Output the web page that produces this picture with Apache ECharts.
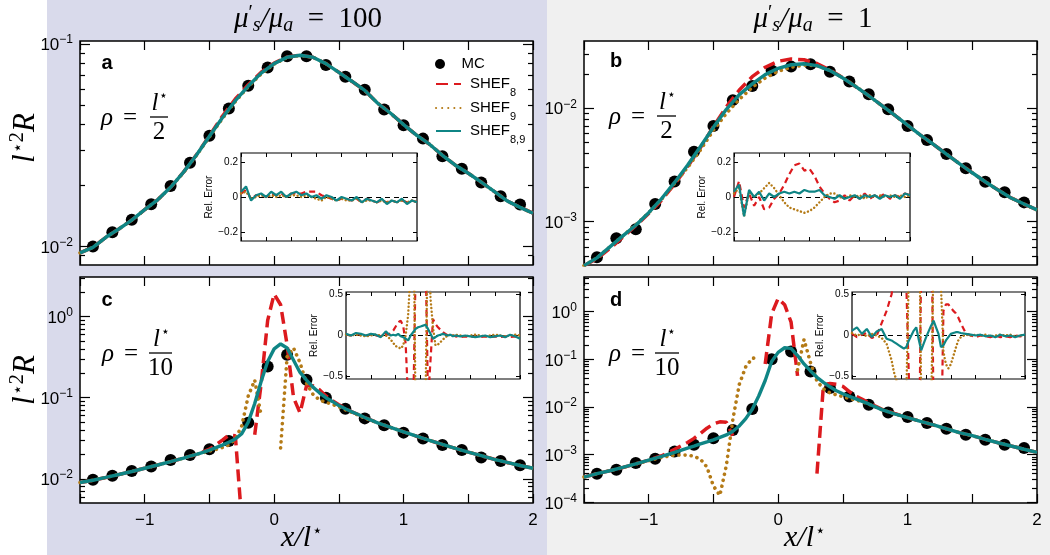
<!DOCTYPE html>
<html><head><meta charset="utf-8">
<script src="https://cdn.jsdelivr.net/npm/echarts@6/dist/echarts.min.js"></script>
<style>html,body{margin:0;padding:0;background:#fff}#c{width:1050px;height:555px}</style>
</head><body><div id="c"></div>
<script>
// ---------------- DATA ----------------
const xCoarse = [-1.5,-1.4,-1.3,-1.2,-1.1,-1.0,-0.9,-0.8,-0.7,-0.6,-0.5,-0.4,-0.3,-0.2,-0.1,0,0.1,0.2,0.3,0.4,0.5,0.6,0.7,0.8,0.9,1.0,1.1,1.2,1.3,1.4,1.5,1.6,1.7,1.8,1.9,2.0];
const xFine = [-1.5,-1.4,-1.3,-1.2,-1.1,-1.0,-0.9,-0.8,-0.7,-0.65,-0.6,-0.55,-0.5,-0.45,-0.4,-0.35,-0.3,-0.25,-0.2,-0.15,-0.1,-0.05,0,0.05,0.1,0.15,0.2,0.25,0.3,0.35,0.4,0.45,0.5,0.55,0.6,0.65,0.7,0.8,0.9,1.0,1.1,1.2,1.3,1.4,1.5,1.6,1.7,1.8,1.9,2.0];
const mcX = [-1.4,-1.25,-1.1,-0.95,-0.8,-0.65,-0.5,-0.35,-0.2,-0.05,0.1,0.25,0.4,0.55,0.7,0.85,1.0,1.15,1.3,1.45,1.6,1.75,1.9];

// panel a  (mu's/mua = 100, rho = l*/2)
const mcA = [0.0100,0.01175,0.01355,0.01615,0.0199,0.0259,0.0352,0.0480,0.0622,0.0766,0.0871,0.0871,0.0787,0.0690,0.0594,0.0475,0.0397,0.0341,0.0279,0.0242,0.0207,0.0177,0.0161];
const aTeal = [0.0093,0.0099,0.0111,0.0122,0.0135,0.0152,0.0170,0.0196,0.0233,0.0283,0.0350,0.0432,0.0525,0.0620,0.0718,0.0800,0.0860,0.0880,0.0860,0.0800,0.0725,0.0655,0.0590,0.0510,0.0455,0.0400,0.0355,0.0320,0.0282,0.0252,0.0230,0.0208,0.0187,0.0168,0.0156,0.0146];
const aRed = [0.0093,0.0099,0.0111,0.0122,0.0135,0.0152,0.0170,0.0196,0.0233,0.0284,0.0352,0.0440,0.0535,0.0630,0.0725,0.0805,0.0862,0.0880,0.0860,0.0800,0.0725,0.0655,0.0590,0.0510,0.0455,0.0400,0.0355,0.0320,0.0282,0.0252,0.0230,0.0208,0.0187,0.0168,0.0156,0.0146];
const aBrown = [0.0093,0.0099,0.0111,0.0122,0.0135,0.0152,0.0170,0.0196,0.0232,0.0282,0.0348,0.0428,0.0520,0.0615,0.0712,0.0796,0.0858,0.0879,0.0860,0.0800,0.0725,0.0655,0.0590,0.0510,0.0455,0.0400,0.0355,0.0320,0.0282,0.0252,0.0230,0.0208,0.0187,0.0168,0.0156,0.0146];

// panel b  (mu's/mua = 1, rho = l*/2)
const mcB = [0.000485,0.000715,0.000857,0.00143,0.00226,0.00414,0.00698,0.0118,0.0157,0.0215,0.0233,0.0244,0.0210,0.0172,0.0133,0.0098,0.00698,0.00525,0.00395,0.00296,0.00225,0.00182,0.00148];
const bTeal = [0.00041,0.00048,0.00060,0.00075,0.00093,0.00120,0.00160,0.00222,0.00315,0.00460,0.00680,0.00980,0.01320,0.01640,0.01980,0.02250,0.02420,0.02470,0.02380,0.02150,0.01850,0.01550,0.01290,0.01060,0.00870,0.00710,0.00580,0.00480,0.00395,0.00325,0.00270,0.00225,0.00190,0.00162,0.00143,0.00127];
const bRed = [0.00041,0.00047,0.00058,0.00073,0.00092,0.00118,0.00155,0.00215,0.00305,0.00450,0.00690,0.01030,0.01450,0.01900,0.02300,0.02600,0.02720,0.02680,0.02480,0.02180,0.01860,0.01550,0.01290,0.01060,0.00870,0.00710,0.00580,0.00480,0.00395,0.00325,0.00270,0.00225,0.00190,0.00162,0.00143,0.00127];
const bBrown = [0.00041,0.00048,0.00060,0.00075,0.00094,0.00120,0.00158,0.00218,0.00300,0.00430,0.00640,0.00900,0.01200,0.01530,0.01850,0.02120,0.02300,0.02400,0.02370,0.02160,0.01860,0.01560,0.01290,0.01060,0.00870,0.00710,0.00580,0.00480,0.00395,0.00325,0.00270,0.00225,0.00190,0.00162,0.00143,0.00127];

// panel c  (mu's/mua = 100, rho = l*/10)
const mcC = [0.00972,0.0109,0.0125,0.0142,0.0171,0.0197,0.0231,0.0292,0.0492,0.243,0.339,0.167,0.0997,0.0731,0.0556,0.0456,0.0371,0.0313,0.0261,0.0227,0.0183,0.0166,0.0147];
const cTeal = [0.0090,0.0096,0.0104,0.0113,0.0123,0.0135,0.0148,0.0163,0.0180,0.0190,0.0200,0.0212,0.0226,0.0242,0.0260,0.0282,0.0310,0.0360,0.0500,0.085,0.160,0.280,0.400,0.460,0.410,0.290,0.205,0.165,0.135,0.115,0.100,0.090,0.080,0.073,0.067,0.062,0.057,0.049,0.043,0.038,0.0335,0.0298,0.0265,0.0237,0.0213,0.0193,0.0174,0.0159,0.0146,0.0135];
const cRed = [0.0090,0.0096,0.0104,0.0113,0.0123,0.0135,0.0148,0.0163,0.0180,0.0190,0.0200,0.0215,0.0232,0.0262,0.0300,0.0345,0.0340,0.0030,null,0.035,0.150,0.900,1.900,1.400,0.450,0.100,0.065,0.140,0.140,0.125,0.105,0.092,0.082,0.074,0.067,0.062,0.057,0.049,0.043,0.038,0.0335,0.0298,0.0265,0.0237,0.0213,0.0193,0.0174,0.0159,0.0146,0.0135];
const cBrown = [0.0090,0.0096,0.0104,0.0113,0.0123,0.0135,0.0148,0.0163,0.0180,0.0190,0.0200,0.0210,0.0220,0.0230,0.0243,0.0262,0.0310,0.0450,0.105,0.165,0.060,null,null,0.024,0.320,0.410,0.270,0.150,0.110,0.094,0.088,0.083,0.077,0.071,0.066,0.061,0.056,0.049,0.043,0.038,0.0335,0.0298,0.0265,0.0237,0.0213,0.0193,0.0174,0.0159,0.0146,0.0135];

// panel d  (mu's/mua = 1, rho = l*/10)
const mcD = [0.0004,0.000485,0.00067,0.00082,0.00117,0.00162,0.0022,0.0033,0.0091,0.1008,0.146,0.0558,0.0249,0.0167,0.0112,0.0077,0.0062,0.00463,0.0035,0.00262,0.00206,0.00162,0.00138];
const dTeal = [0.00034,0.00040,0.00046,0.00054,0.00064,0.00077,0.00092,0.00112,0.00138,0.00152,0.00168,0.00185,0.00205,0.0023,0.0026,0.0031,0.0040,0.0057,0.0090,0.017,0.036,0.090,0.140,0.175,0.170,0.120,0.080,0.057,0.042,0.033,0.0265,0.022,0.019,0.0167,0.0148,0.0131,0.0116,0.0088,0.0072,0.0060,0.0050,0.0042,0.0035,0.0029,0.0025,0.0021,0.00178,0.00152,0.0013,0.00112];
const dRed = [0.00034,0.00040,0.00046,0.00054,0.00064,0.00077,0.00095,0.0013,0.0018,0.0022,0.0028,0.0036,0.0044,0.0049,0.0048,0.0025,null,null,null,null,0.080,0.900,1.900,1.400,0.600,0.045,null,null,0.0004,0.029,0.031,0.030,0.027,0.021,0.017,0.0145,0.0122,0.0090,0.0073,0.0060,0.0050,0.0042,0.0035,0.0029,0.0025,0.0021,0.00178,0.00152,0.0013,0.00112];
const dBrown = [0.00034,0.00040,0.00046,0.00054,0.00064,0.00075,0.00088,0.00098,0.00098,0.00093,0.0008,0.00055,0.00022,0.00014,0.0006,0.0055,0.030,0.070,0.105,0.110,null,null,null,null,null,0.060,0.260,0.085,0.035,0.024,0.0198,0.018,0.0165,0.015,0.014,0.0128,0.0115,0.0088,0.0072,0.0060,0.0050,0.0042,0.0035,0.0029,0.0025,0.0021,0.00178,0.00152,0.0013,0.00112];

// insets: relative error
const iaTeal = [0.03,0.06,-0.02,0.01,0.02,0.0,0.03,0.01,0.03,0.0,0.02,0.03,0.01,0.02,0.0,0.01,-0.01,0.01,0.0,-0.02,0.0,-0.01,-0.02,0.0,-0.03,-0.01,-0.02,-0.03,-0.01,-0.04,-0.02,-0.03,-0.01,-0.04,-0.02,-0.03];
const iaRed = [0.02,0.04,-0.01,0.01,0.01,0.0,0.02,0.01,0.02,0.0,0.02,0.02,0.02,0.03,0.03,0.03,0.01,0.0,-0.01,-0.02,-0.01,-0.01,-0.02,-0.01,-0.03,-0.01,-0.02,-0.03,-0.02,-0.03,-0.02,-0.03,-0.02,-0.03,-0.02,-0.03];
const iaBrown = [0.02,0.03,-0.01,0.0,0.01,0.0,0.01,0.0,0.01,0.0,0.01,0.01,0.0,0.01,0.0,-0.01,-0.02,0.0,-0.01,-0.02,-0.01,-0.02,-0.02,-0.01,-0.03,-0.02,-0.02,-0.03,-0.02,-0.03,-0.02,-0.03,-0.02,-0.03,-0.02,-0.03];
const ibTeal = [0.03,0.07,-0.11,0.04,0.0,0.03,-0.02,0.02,0.0,0.02,0.03,0.02,0.03,0.02,0.04,0.03,0.03,0.04,0.01,0.0,-0.01,0.01,-0.01,0.0,0.01,-0.01,0.01,0.0,0.01,-0.01,0.01,0.0,0.01,-0.01,0.02,0.01];
const ibRed = [0.0,0.09,-0.06,0.02,-0.05,0.0,-0.07,-0.06,-0.01,0.02,0.07,0.13,0.18,0.19,0.15,0.16,0.12,0.06,0.02,-0.01,-0.03,-0.02,0.01,-0.02,0.01,-0.01,0.02,-0.01,0.01,0.0,0.02,-0.01,0.01,0.0,0.02,0.01];
const ibBrown = [0.02,0.05,-0.11,0.03,0.0,0.02,0.05,0.08,0.05,0.01,-0.03,-0.06,-0.07,-0.08,-0.09,-0.08,-0.06,-0.03,0.0,0.02,0.02,0.0,-0.01,0.01,0.0,0.01,-0.01,0.01,0.0,0.01,0.0,0.01,0.0,0.01,0.0,0.01];
const icTeal = [0.02,0.0,0.03,0.02,0.0,0.02,0.01,-0.02,0.05,0.02,0.0,0.01,0.0,0.02,-0.01,-0.02,-0.04,-0.06,0.0,0.04,0.08,0.10,0.11,0.12,0.13,0.08,0.02,-0.04,-0.02,0.0,0.01,0.02,0.01,0.0,0.01,-0.01,0.0,-0.01,0.0,-0.01,-0.02,-0.01,0.0,-0.02,-0.01,0.0,-0.02,0.01,-0.01,-0.04];
const icRed = [0.01,0.0,0.02,0.01,0.0,0.01,0.0,-0.01,0.02,0.01,0.03,0.06,0.11,0.16,0.18,0.12,-0.1,-0.8,-1.5,-1.0,0.8,3,5,4,1,-0.8,-0.3,0.2,0.14,0.1,0.07,0.04,0.02,0.0,-0.01,0.0,-0.01,-0.02,-0.01,-0.02,-0.01,-0.02,-0.01,-0.02,-0.01,-0.02,-0.01,-0.02,-0.01,-0.02];
const icBrown = [0.01,0.0,0.01,0.0,-0.01,0.0,0.01,0.0,0.0,-0.02,-0.05,-0.09,-0.13,-0.14,-0.16,-0.12,0.0,0.25,0.8,2,-1,-1.8,-2,-1.5,-0.8,1.5,0.45,0.1,-0.12,-0.11,-0.08,-0.05,-0.02,0.0,0.01,0.0,0.01,0.0,-0.01,0.0,0.01,0.0,-0.01,0.0,0.01,0.0,-0.01,0.0,0.01,0.0];
const idTeal = [0.06,0.1,0.02,0.08,-0.02,0.05,0.08,-0.04,-0.06,-0.08,-0.1,-0.12,-0.14,-0.16,-0.14,-0.06,0.0,0.06,0.1,-0.05,-0.18,-0.1,-0.02,0.05,0.12,0.18,0.1,0.02,-0.14,-0.12,-0.06,-0.02,0.02,0.03,0.04,0.04,0.03,0.02,0.01,0.0,0.01,-0.01,0.0,-0.02,0.01,-0.01,0.0,-0.02,0.0,0.01];
const idRed = [0.02,-0.02,0.01,0.03,-0.03,0.0,0.15,0.3,0.5,0.7,0.9,1.2,1.4,1.0,0.6,-0.5,-2,-3,-3,-2,1,5,10,6,2,-1,-2,-2,-1.5,0.3,0.38,0.38,0.34,0.3,0.27,0.22,0.15,0.03,0.0,-0.02,0.0,-0.01,-0.02,0.0,-0.02,-0.01,-0.02,0.0,-0.01,0.0];
const idBrown = [0.03,0.0,0.02,-0.01,0.02,0.0,-0.03,-0.1,-0.3,-0.45,-0.55,-0.7,-0.9,-0.95,-0.7,0.8,2,4,4,2,-0.8,-2,-2,-1.5,-1,1,2,1.5,0.6,-0.2,-0.35,-0.4,-0.35,-0.25,-0.15,-0.06,-0.02,0.01,0.0,0.01,0.0,0.01,-0.01,0.0,0.01,0.0,0.01,-0.01,0.0,0.01];

const seriesNames = ['MC','SHEF8','SHEF9','SHEF89'];
const titleTexts = ['100','1'];
const panelLetters = ['a','b','c','d'];
const rhoDenoms = ['2','2','10','10'];

// ---------------- LAYOUT / STYLE ----------------
const SANS = '"Liberation Sans", Arial, Helvetica, sans-serif';
const SERIF = '"Liberation Serif", "Times New Roman", serif';
const RED = '#dc1a1e', BROWN = '#b47a16', TEAL = '#0f8585';

const MAIN = [
  {left:80,  top:41,  width:453, height:224, ymin:0.0081,   ymax:0.1035, xlab:false, data:{mc:mcA, red:aRed, brown:aBrown, teal:aTeal, x:xCoarse}},
  {left:584, top:41,  width:453, height:224, ymin:0.000415, ymax:0.0392, xlab:false, data:{mc:mcB, red:bRed, brown:bBrown, teal:bTeal, x:xCoarse}},
  {left:80,  top:277, width:453, height:226, ymin:0.00503,  ymax:3.08,   xlab:true,  data:{mc:mcC, red:cRed, brown:cBrown, teal:cTeal, x:xFine}},
  {left:584, top:277, width:453, height:226, ymin:0.000097, ymax:5.33,   xlab:true,  data:{mc:mcD, red:dRed, brown:dBrown, teal:dTeal, x:xFine}}
];
const INSET = [
  {left:241, top:153, width:176, height:88, lim:0.25, ticks:[-0.2,0,0.2], data:{red:iaRed, brown:iaBrown, teal:iaTeal, x:xCoarse}},
  {left:734, top:153, width:176, height:88, lim:0.25, ticks:[-0.2,0,0.2], data:{red:ibRed, brown:ibBrown, teal:ibTeal, x:xCoarse}},
  {left:346, top:292, width:174, height:87, lim:0.53, ticks:[-0.5,0,0.5], data:{red:icRed, brown:icBrown, teal:icTeal, x:xFine}},
  {left:852, top:292, width:173, height:87, lim:0.53, ticks:[-0.5,0,0.5], data:{red:idRed, brown:idBrown, teal:idTeal, x:xFine}}
];

function zip(xs, ys){ return xs.map((x,i)=>[x, ys[i]==null ? '-' : ys[i]]); }
function fmtNum(v){ return v<0 ? '\u2212'+String(-v) : String(v); }
function fmtPow(v){ const e=Math.round(Math.log10(v)); return '{b|10}{e|'+(e<0?'\u2212'+(-e):e)+'}'; }
function decades(min,max){ const r=[]; for(let k=-6;k<=2;k++){const v=Math.pow(10,k); if(v>=min*0.999&&v<=max*1.001) r.push(v);} return r; }
function minors(min,max){ const r=[]; for(let k=-6;k<=2;k++){ for(let j=2;j<=9;j++){const v=j*Math.pow(10,k); if(v>=min&&v<=max) r.push(v);} } return r; }

const grids=[], xAxes=[], yAxes=[], series=[];
const tickLine = {color:'#000', width:1.2};
const noLine = {show:false, onZero:false};

MAIN.forEach((p,i)=>{
  grids.push({left:p.left, top:p.top, width:p.width, height:p.height, show:true, backgroundColor:'#fff', borderColor:'#000', borderWidth:1.5, containLabel:false, outerBoundsMode:'none'});
  ['bottom','top'].forEach(pos=>{
    xAxes.push({gridIndex:i, type:'value', min:-1.5, max:2, interval:0.5, position:pos,
      axisLine:noLine, splitLine:{show:false},
      axisTick:{inside:true, length:9, lineStyle:tickLine},
      axisLabel:{show: pos==='bottom' && p.xlab, margin:9, fontSize:17, fontFamily:SANS, color:'#000',
        formatter:v=> Number.isInteger(v) ? fmtNum(v) : ''}});
  });
  const dec = decades(p.ymin,p.ymax), mn = minors(p.ymin,p.ymax);
  ['left','right'].forEach(pos=>{
    yAxes.push({gridIndex:i, type:'log', logBase:10, min:p.ymin, max:p.ymax, position:pos,
      axisLine:noLine, splitLine:{show:false}, minorTick:{show:false},
      axisTick:{inside:true, length:10, lineStyle:tickLine, customValues:dec},
      axisLabel:{show: pos==='left', customValues:dec, margin:7, formatter:fmtPow,
        rich:{ b:{fontSize:17, fontFamily:SANS, color:'#000', lineHeight:20, verticalAlign:'bottom'},
               e:{fontSize:12, fontFamily:SANS, color:'#000', lineHeight:20, verticalAlign:'top'} }}});
    yAxes.push({gridIndex:i, type:'log', logBase:10, min:p.ymin, max:p.ymax, position:pos,
      axisLine:noLine, splitLine:{show:false}, minorTick:{show:false},
      axisTick:{inside:true, length:5, lineStyle:tickLine, customValues:mn},
      axisLabel:{show:false}});
  });
});
INSET.forEach((p,j)=>{
  const gi = 4+j;
  grids.push({left:p.left, top:p.top, width:p.width, height:p.height, show:true, backgroundColor:'#fff', borderColor:'#000', borderWidth:1.2, containLabel:false, outerBoundsMode:'none'});
  ['bottom','top'].forEach(pos=>{
    xAxes.push({gridIndex:gi, type:'value', min:-1.5, max:2, interval:0.5, position:pos,
      axisLine:noLine, splitLine:{show:false},
      axisTick:{inside:true, length:4, lineStyle:{color:'#000',width:1}}, axisLabel:{show:false}});
  });
  ['left','right'].forEach(pos=>{
    yAxes.push({gridIndex:gi, type:'value', min:-p.lim, max:p.lim, position:pos,
      axisLine:noLine, splitLine:{show:false},
      axisTick:{inside:true, length:4, lineStyle:{color:'#000',width:1}, customValues:p.ticks},
      axisLabel:{show: pos==='left', customValues:p.ticks, margin:3, fontSize:10, fontFamily:SANS, color:'#000', formatter:fmtNum},
      name: pos==='left' ? 'Rel. Error' : '', nameLocation:'middle', nameGap:19, nameRotate:90,
      nameTextStyle:{fontSize:10, fontFamily:SANS, color:'#000'}});
  });
});

// main panel series
MAIN.forEach((p,i)=>{
  const xi=2*i, yi=4*i, d=p.data;
  series.push({name:'MC', type:'scatter', xAxisIndex:xi, yAxisIndex:yi, data:zip(mcX,d.mc), symbol:'circle', symbolSize:12, itemStyle:{color:'#000', opacity:1}, z:2, silent:true});
  series.push({name:'SHEF8', type:'line', xAxisIndex:xi, yAxisIndex:yi, data:zip(d.x,d.red), symbol:'none', showSymbol:false, clip:true, connectNulls:false, lineStyle:{color:RED, width:3.5, type:[12,6]}, itemStyle:{color:RED}, z:3, silent:true});
  series.push({name:'SHEF9', type:'line', xAxisIndex:xi, yAxisIndex:yi, data:zip(d.x,d.brown), symbol:'none', showSymbol:false, clip:true, connectNulls:false, lineStyle:{color:BROWN, width:3.6, type:[0.1,6], cap:'round'}, itemStyle:{color:BROWN}, z:4, silent:true});
  series.push({name:'SHEF89', type:'line', xAxisIndex:xi, yAxisIndex:yi, data:zip(d.x,d.teal), symbol:'none', showSymbol:false, clip:true, lineStyle:{color:TEAL, width:3.4}, itemStyle:{color:TEAL}, z:5, silent:true});
});
// inset series
INSET.forEach((p,j)=>{
  const xi=8+2*j, yi=16+2*j, d=p.data;
  series.push({name:'SHEF8', type:'line', xAxisIndex:xi, yAxisIndex:yi, data:zip(d.x,d.red), symbol:'none', showSymbol:false, clip:true, lineStyle:{color:RED, width:2.2, type:[6,4]}, z:6, silent:true,
    markLine:{silent:true, symbol:'none', label:{show:false}, lineStyle:{color:'#000', width:1, type:[5,4]}, data:[{yAxis:0}], animation:false}});
  series.push({name:'SHEF9', type:'line', xAxisIndex:xi, yAxisIndex:yi, data:zip(d.x,d.brown), symbol:'none', showSymbol:false, clip:true, lineStyle:{color:BROWN, width:2.4, type:[0.1,3.6], cap:'round'}, z:7, silent:true});
  series.push({name:'SHEF89', type:'line', xAxisIndex:xi, yAxisIndex:yi, data:zip(d.x,d.teal), symbol:'none', showSymbol:false, clip:true, lineStyle:{color:TEAL, width:2.2}, z:8, silent:true});
});

// ---------------- ANNOTATION TEXT ----------------
const mathRich = (fs, lh)=>{
  lh = lh || fs+8;
  return {
  m:{fontFamily:SERIF, fontStyle:'italic', fontSize:fs, lineHeight:lh, verticalAlign:'middle', color:'#000'},
  r:{fontFamily:SERIF, fontSize:fs, lineHeight:lh, verticalAlign:'middle', color:'#000'},
  p:{fontFamily:SERIF, fontSize:Math.round(fs*0.68), lineHeight:lh, verticalAlign:'top', padding:[2,0,0,0], color:'#000'},
  s:{fontFamily:SERIF, fontStyle:'italic', fontSize:Math.round(fs*0.68), lineHeight:lh, verticalAlign:'bottom', color:'#000'},
  st:{fontFamily:'"DejaVu Serif", serif', fontSize:Math.round(fs*0.55), lineHeight:lh, verticalAlign:'top', padding:[3,0,0,1], color:'#000'},
  su:{fontFamily:SERIF, fontSize:Math.round(fs*0.68), lineHeight:lh, verticalAlign:'top', color:'#000'}
  };
};
function txt(x,y,text,rich,opts){
  return Object.assign({type:'text', x:x, y:y, z:100, silent:true,
    style:{text:text, rich:rich, align:'center', verticalAlign:'middle', textAlign:'center', textVerticalAlign:'middle', fill:'#000'}}, opts||{});
}
const graphics = [
  {type:'rect', shape:{x:47,y:0,width:500,height:555}, style:{fill:'#d9daeb'}, z:-100, silent:true},
  {type:'rect', shape:{x:547,y:0,width:503,height:555}, style:{fill:'#f0f0f0'}, z:-100, silent:true}
];
const titleX = [308, 813];
titleTexts.forEach((t,k)=>{
  graphics.push(txt(titleX[k], 19, '{m|\u03bc}{p|\u2032}{s|s}{m|/\u03bc}{s|a}{r|\u2002=\u2002'+t+'}', mathRich(29, 34)));
});
// y-axis names
[138, 380].forEach(y=>{
  graphics.push(txt(26, y, '{m|l}{st|\u22c6}{su|2}{m|R}', mathRich(31, 38), {rotation:Math.PI/2}));
});
// x-axis names
[302, 805].forEach(x=>{
  graphics.push(txt(x, 538, '{m|x/l}{st|\u22c6}', mathRich(30, 36)));
});
// panel letters
const letterPos = [[107,63],[616,61],[107,300],[616,300]];
panelLetters.forEach((L,k)=>{
  graphics.push({type:'text', x:letterPos[k][0], y:letterPos[k][1], z:100, silent:true,
    style:{text:L, font:'bold 20px '+SANS, fill:'#000', align:'center', verticalAlign:'middle', textAlign:'center', textVerticalAlign:'middle'}});
});
// rho = l*/n
const rhoPos = [{x:101,bar:117,b0:150,b1:168},{x:609,bar:116,b0:657,b1:676},{x:102,bar:353,b0:149,b1:172},{x:609,bar:353,b0:655,b1:679}];
rhoPos.forEach((r,k)=>{
  graphics.push({type:'text', x:r.x, y:r.bar+1, z:100, silent:true,
    style:{text:'{m|\u03c1}{r|\u2009\u2009=}', rich:mathRich(25), align:'left', verticalAlign:'middle', textAlign:'left', textVerticalAlign:'middle'}});
  graphics.push({type:'line', z:100, silent:true, shape:{x1:r.b0, y1:r.bar, x2:r.b1, y2:r.bar}, style:{stroke:'#000', lineWidth:1.3}});
  graphics.push(txt((r.b0+r.b1)/2+1, r.bar-14, '{m|l}{st|\u22c6}', mathRich(25)));
  graphics.push(txt((r.b0+r.b1)/2, r.bar+15, '{r|'+rhoDenoms[k]+'}', mathRich(25)));
});

// ---------------- LEGEND (one component per row for exact spacing) ----------------
const legendLabels = {MC:'{n|MC}', SHEF8:'{n|SHEF}{s|8}', SHEF9:'{n|SHEF}{s|9}', SHEF89:'{n|SHEF}{s|8,9}'};
const legendRowCenters = [63, 83, 107, 130];
const legends = seriesNames.map((n,k)=>({
  show:true, orient:'vertical', left:435, top:legendRowCenters[k]-6.5, padding:0,
  itemWidth:25, itemHeight:10, selectedMode:false,
  data:[ n==='MC' ? {name:n} : {name:n, itemStyle:{opacity:0}} ],
  formatter:nm=>legendLabels[nm],
  textStyle:{color:'#000', fontFamily:SANS, fontSize:15,
    rich:{ n:{fontSize:15, fontFamily:SANS, color:'#000', lineHeight:28, verticalAlign:'middle', padding:[0,0,0,4]},
           s:{fontSize:11, fontFamily:SANS, color:'#000', lineHeight:26, verticalAlign:'bottom'} }}
}));

const option = {
  animation:false,
  backgroundColor:'#ffffff',
  grid:grids, xAxis:xAxes, yAxis:yAxes, series:series,
  legend:legends,
  graphic:graphics
};
const chart = echarts.init(document.getElementById('c'), null, {renderer:'canvas'});
chart.setOption(option);
</script>
</body></html>
